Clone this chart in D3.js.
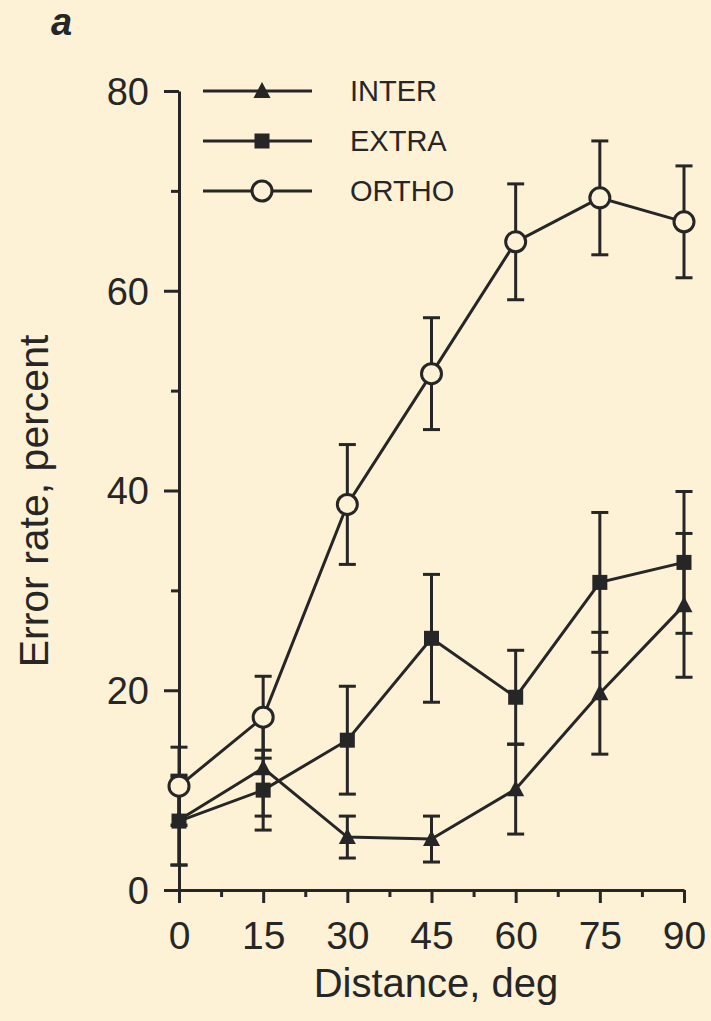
<!DOCTYPE html>
<html>
<head>
<meta charset="utf-8">
<script src="https://cdn.jsdelivr.net/npm/d3@7"></script>
<style>
  html, body { margin: 0; padding: 0; background: #fdf1d6; }
  svg { display: block; }
  text { font-family: "Liberation Sans", Arial, sans-serif; fill: #262626; }
</style>
</head>
<body>
<div id="chart"></div>
<script>
// Error rate vs. distance, panel a

const distances = [0, 15, 30, 45, 60, 75, 90];
const minorDistances = [7.5, 22.5, 37.5, 52.5, 67.5, 82.5];
const yTicks = [0, 20, 40, 60, 80];
const yMinorTicks = [10, 30, 50, 70];

const interMean = [7.0, 12.2, 5.3, 5.1, 10.1, 19.7, 28.5];
const interErr  = [4.5, 4.8, 2.1, 2.3, 4.5, 6.1, 7.2];

const extraMean = [6.9, 10.0, 15.0, 25.2, 19.3, 30.8, 32.8];
const extraErr  = [4.4, 4.0, 5.4, 6.4, 4.7, 7.0, 7.1];

const orthoMean = [10.4, 17.3, 38.6, 51.7, 64.9, 69.3, 66.9];
const orthoErr  = [3.9, 4.1, 6.0, 5.6, 5.8, 5.7, 5.6];

const seriesNames = ["INTER", "EXTRA", "ORTHO"];

const INK = "#262626";
const BG = "#fdf1d6";

const W = 711, H = 1021;

const svg = d3.select("#chart").append("svg")
    .attr("width", W)
    .attr("height", H);

const x = d3.scaleLinear().domain([0, 90]).range([179, 684]);
const y = d3.scaleLinear().domain([0, 80]).range([890, 91]);

const series = [
    { name: seriesNames[0], mean: interMean, err: interErr, shape: "triangle" },
    { name: seriesNames[1], mean: extraMean, err: extraErr, shape: "square" },
    { name: seriesNames[2], mean: orthoMean, err: orthoErr, shape: "circle" }
];

/* --- Axes --- */
function styleAxis(g) {
    g.select(".domain").attr("stroke", INK).attr("stroke-width", 3);
    g.selectAll(".tick line").attr("stroke", INK).attr("stroke-width", 3);
    g.selectAll(".tick text").attr("fill", INK);
}

const yAxis = svg.append("g")
    .attr("transform", `translate(${x(0)},0)`)
    .call(d3.axisLeft(y).tickValues(yTicks).tickSize(15).tickPadding(15).tickSizeOuter(0))
    .call(styleAxis);
yAxis.selectAll(".tick text")
    .attr("font-size", 38)
    .attr("font-family", "Liberation Sans, Arial, sans-serif")
    .attr("dy", "0.35em");

svg.append("g")
    .attr("transform", `translate(${x(0)},0)`)
    .call(d3.axisLeft(y).tickValues(yMinorTicks).tickSize(8).tickFormat("").tickSizeOuter(0))
    .call(styleAxis)
    .select(".domain").remove();

const xAxis = svg.append("g")
    .attr("transform", `translate(0,${y(0)})`)
    .call(d3.axisBottom(x).tickValues(distances).tickSize(13).tickPadding(18).tickSizeOuter(0))
    .call(styleAxis);
xAxis.selectAll(".tick text")
    .attr("font-size", 39)
    .attr("font-family", "Liberation Sans, Arial, sans-serif");

svg.append("g")
    .attr("transform", `translate(0,${y(0)})`)
    .call(d3.axisBottom(x).tickValues(minorDistances).tickSize(7).tickFormat("").tickSizeOuter(0))
    .call(styleAxis)
    .select(".domain").remove();

// Axis titles
svg.append("text")
    .attr("x", 436)
    .attr("y", 997)
    .attr("text-anchor", "middle")
    .attr("font-size", 40)
    .text("Distance, deg");

svg.append("text")
    .attr("transform", "translate(48,501) rotate(-90)")
    .attr("text-anchor", "middle")
    .attr("font-size", 41)
    .text("Error rate, percent");

// Panel letter
svg.append("text")
    .attr("x", 51)
    .attr("y", 35)
    .attr("font-size", 38)
    .attr("font-weight", "bold")
    .attr("font-style", "italic")
    .text("a");

/* --- Marks --- */
const plot = svg.append("g");

const line = d3.line()
    .x((d, i) => x(distances[i]))
    .y(d => y(d));

series.forEach(s => {
    plot.append("path")
        .datum(s.mean)
        .attr("d", line)
        .attr("fill", "none")
        .attr("stroke", INK)
        .attr("stroke-width", 3);
});

// Error bars
const capHalf = 8.5;
series.forEach(s => {
    const g = plot.append("g").attr("stroke", INK).attr("stroke-width", 3);
    s.mean.forEach((m, i) => {
        const cx = x(distances[i]);
        const lo = y(m - s.err[i]);
        const hi = y(m + s.err[i]);
        g.append("line").attr("x1", cx).attr("x2", cx).attr("y1", lo).attr("y2", hi);
        g.append("line").attr("x1", cx - capHalf).attr("x2", cx + capHalf).attr("y1", lo).attr("y2", lo);
        g.append("line").attr("x1", cx - capHalf).attr("x2", cx + capHalf).attr("y1", hi).attr("y2", hi);
    });
});

function drawMarker(g, shape, cx, cy) {
    if (shape === "circle") {
        g.append("circle")
            .attr("cx", cx).attr("cy", cy).attr("r", 10)
            .attr("fill", BG).attr("stroke", INK).attr("stroke-width", 3);
    } else if (shape === "square") {
        g.append("rect")
            .attr("x", cx - 7.5).attr("y", cy - 7.5)
            .attr("width", 15).attr("height", 15)
            .attr("fill", INK);
    } else {
        g.append("path")
            .attr("d", `M${cx},${cy - 9}L${cx + 8.5},${cy + 7}L${cx - 8.5},${cy + 7}Z`)
            .attr("fill", INK);
    }
}

series.forEach(s => {
    const g = plot.append("g");
    s.mean.forEach((m, i) => drawMarker(g, s.shape, x(distances[i]), y(m)));
});

/* --- Legend --- */
const legendY = [91, 141, 191];
const legend = svg.append("g");
series.forEach((s, i) => {
    const ly = legendY[i];
    legend.append("line")
        .attr("x1", 203).attr("x2", 312)
        .attr("y1", ly).attr("y2", ly)
        .attr("stroke", INK).attr("stroke-width", 3);
    drawMarker(legend, s.shape, 262, ly);
    legend.append("text")
        .attr("x", 350)
        .attr("y", ly)
        .attr("dy", "0.35em")
        .attr("font-size", 29)
        .text(s.name);
});
</script>
</body>
</html>
